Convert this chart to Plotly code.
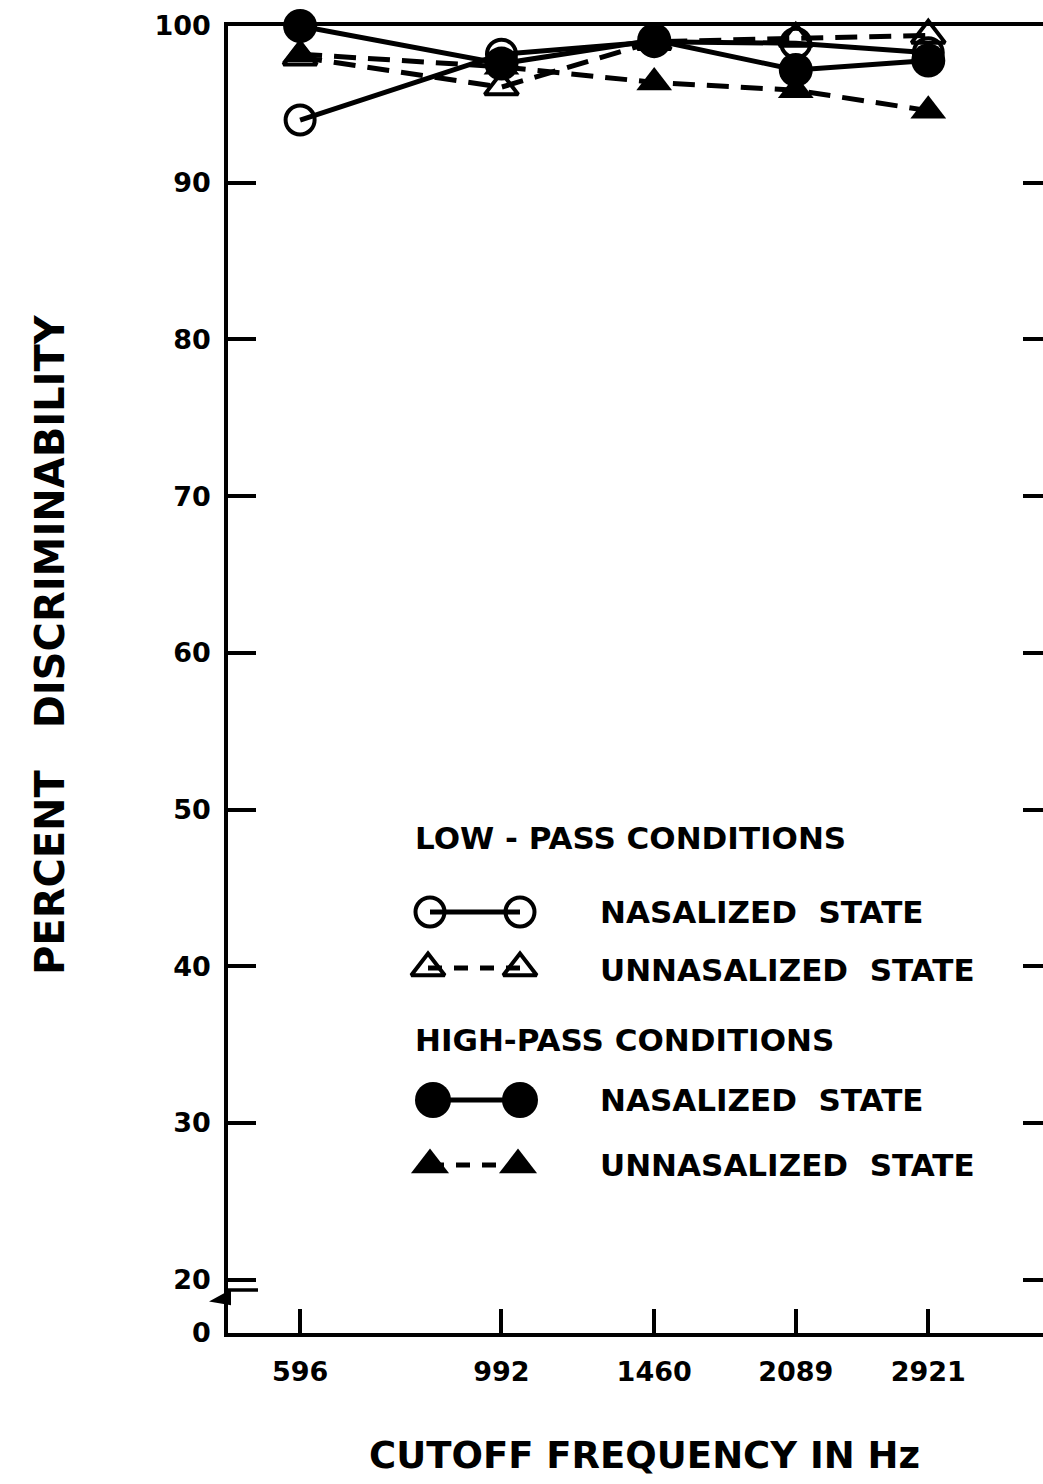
import plotly.graph_objects as go

# ---------------- data ----------------
freqs = [596, 992, 1460, 2089, 2921]
freq_labels = ["596", "992", "1460", "2089", "2921"]

lp_nasalized = [94.0, 98.2, 99.0, 98.9, 98.3]      # open circles, solid
lp_unnasalized = [98.0, 96.1, 99.0, 99.2, 99.4]    # open triangles, dashed
hp_nasalized = [100.0, 97.6, 99.1, 97.2, 97.8]     # filled circles, solid
hp_unnasalized = [98.2, 97.4, 96.4, 95.9, 94.6]    # filled triangles, dashed

y_tick_vals = [16.6, 20, 30, 40, 50, 60, 70, 80, 90, 100]
y_tick_text = ["0", "20", "30", "40", "50", "60", "70", "80", "90", "100"]

legend_header_lp = "LOW - PASS CONDITIONS"
legend_header_hp = "HIGH-PASS CONDITIONS"
legend_nas = "NASALIZED\u00a0 STATE"
legend_unnas = "UNNASALIZED\u00a0 STATE"

x_title = "CUTOFF FREQUENCY IN Hz"
y_title = "PERCENT\u00a0\u00a0\u00a0DISCRIMINABILITY"

# ---------------- layout geometry (pixels) ----------------
W, H = 1043, 1484
L, R, T, B = 228, 1043, 26, 1333
FONT = "DejaVu Sans"
BLACK = "black"


def px(xp):
    return (xp - L) / (R - L)


def py(yp):
    return (B - yp) / (B - T)


fig = go.Figure()

series = [
    (lp_nasalized, "circle-open", 29, "solid", "LP nasalized"),
    (lp_unnasalized, "triangle-up-open", 29, "dash", "LP unnasalized"),
    (hp_nasalized, "circle", 34, "solid", "HP nasalized"),
    (hp_unnasalized, "triangle-up", 31, "dash", "HP unnasalized"),
]
for vals, sym, size, dash, name in series:
    fig.add_trace(go.Scatter(
        x=freqs, y=vals, mode="lines+markers", name=name,
        line=dict(color=BLACK, width=5, dash="22px,12px" if dash == "dash" else "solid"),
        marker=dict(symbol=sym, size=size, color=BLACK,
                    line=dict(color=BLACK, width=4 if "open" in sym else 0)),
        cliponaxis=False, showlegend=False, xaxis="x", yaxis="y",
    ))

# empty trace so that the right-hand tick axis is drawn
fig.add_trace(go.Scatter(x=[None], y=[None], xaxis="x", yaxis="y3",
                         showlegend=False, hoverinfo="skip"))

# ---------------- hand-made legend glyphs (pixel overlay axes) ----------------
legend_rows = [
    (912, "circle-open", 29, "solid", (430, 520)),
    (968, "triangle-up-open", 29, "dash", (428, 520)),
    (1100, "circle", 36, "solid", (433, 520)),
    (1165, "triangle-up", 33, "dash", (430, 518)),
]
for yy, sym, size, dash, (x0, x1) in legend_rows:
    fig.add_trace(go.Scatter(
        x=[x0, x1], y=[yy, yy], mode="lines+markers",
        line=dict(color=BLACK, width=5, dash="14px,12px" if dash == "dash" else "solid"),
        marker=dict(symbol=sym, size=size, color=BLACK,
                    line=dict(color=BLACK, width=4 if "open" in sym else 0)),
        showlegend=False, xaxis="x2", yaxis="y2", cliponaxis=False, hoverinfo="skip",
    ))

legend_texts = [
    (413, 838, legend_header_lp),
    (598, 912, legend_nas),
    (598, 970, legend_unnas),
    (413, 1040, legend_header_hp),
    (598, 1100, legend_nas),
    (598, 1165, legend_unnas),
]
annotations = []
for xp, yp, txt in legend_texts:
    annotations.append(dict(
        x=px(xp), y=py(yp), xref="paper", yref="paper", text=txt, showarrow=False,
        xanchor="left", yanchor="middle",
        font=dict(family=FONT, size=31, color=BLACK, weight="bold"),
    ))

# axis titles
annotations.append(dict(
    x=px(644), y=py(1455), xref="paper", yref="paper", text=x_title, showarrow=False,
    xanchor="center", yanchor="middle",
    font=dict(family=FONT, size=37, color=BLACK, weight="bold"),
))
annotations.append(dict(
    x=px(50), y=py(645), xref="paper", yref="paper", text=y_title, showarrow=False,
    textangle=-90, xanchor="center", yanchor="middle",
    font=dict(family=FONT, size=40, color=BLACK, weight="bold"),
))

# axis break marks
shapes = [
    dict(type="line", xref="paper", yref="paper", x0=px(L), x1=px(L + 30),
         y0=py(1290), y1=py(1290), line=dict(color=BLACK, width=3.5)),
    dict(type="path", xref="paper", yref="paper",
         path=(f"M {px(L+2)},{py(1291)} L {px(L-16)},{py(1301)} "
               f"L {px(L+2)},{py(1304)} Z"),
         fillcolor=BLACK, line=dict(color=BLACK, width=2)),
]

tick_font = dict(family=FONT, size=27, color=BLACK, weight="bold")

fig.update_layout(
    width=W, height=H,
    margin=dict(l=L, r=W - R, t=T, b=H - B, pad=0),
    paper_bgcolor="white", plot_bgcolor="rgba(0,0,0,0)",
    showlegend=False,
    annotations=annotations,
    shapes=shapes,
    xaxis=dict(
        type="log", range=[2.696, 3.5916],
        tickvals=freqs, ticktext=freq_labels,
        ticks="inside", ticklen=24, tickwidth=3.5, tickcolor=BLACK,
        showline=True, linewidth=3.5, linecolor=BLACK, mirror=True,
        showgrid=False, zeroline=False,
        tickfont=tick_font, ticklabelstandoff=12,
    ),
    yaxis=dict(
        range=[16.6, 100],
        tickvals=y_tick_vals, ticktext=y_tick_text,
        ticks="inside", ticklen=28, tickwidth=3.5, tickcolor=BLACK,
        showline=True, linewidth=3.5, linecolor=BLACK, mirror=False,
        showgrid=False, zeroline=False,
        tickfont=tick_font, ticklabelstandoff=8,
    ),
    yaxis3=dict(
        overlaying="y", side="right", anchor="x",
        range=[16.6, 100], tickvals=y_tick_vals[1:],
        ticks="inside", ticklen=20, tickwidth=3.5, tickcolor=BLACK,
        showticklabels=False, showline=False, showgrid=False, zeroline=False,
    ),
    xaxis2=dict(domain=[0, 1], anchor="y2", range=[L, R], visible=False, fixedrange=True),
    yaxis2=dict(domain=[0, 1], anchor="x2", range=[B, T], visible=False, fixedrange=True),
)

fig.write_html("out.html")
